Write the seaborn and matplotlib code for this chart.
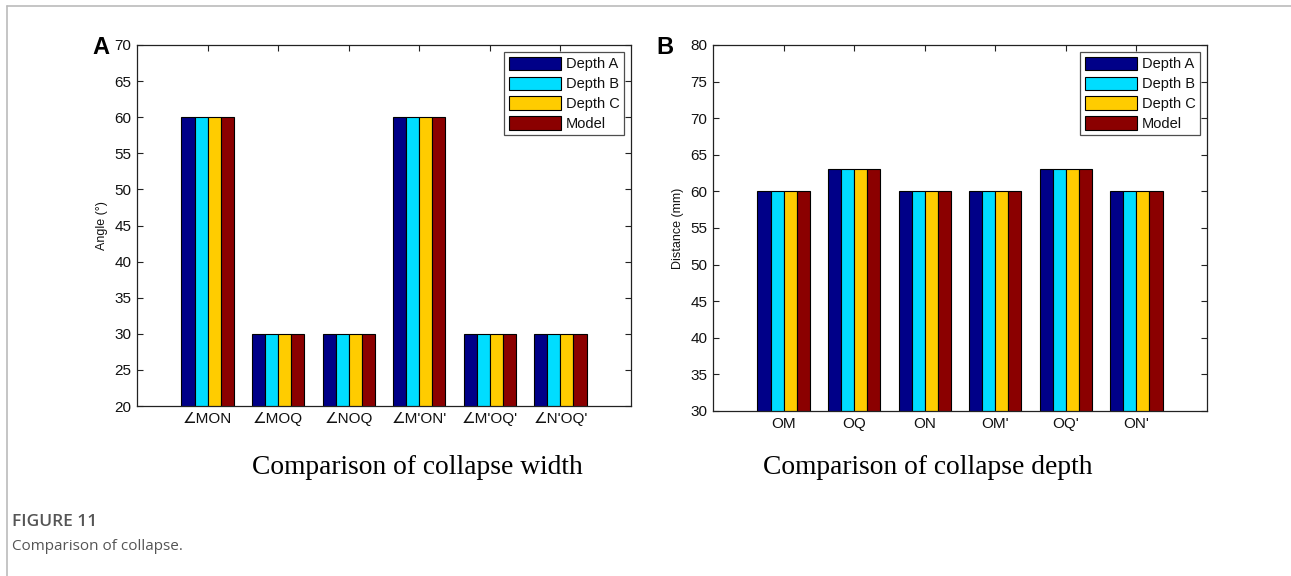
import matplotlib
matplotlib.use("Agg")
import matplotlib.pyplot as plt
import seaborn as sns
import pandas as pd
from matplotlib.lines import Line2D

# ---- data ----
series = ["Depth A", "Depth B", "Depth C", "Model"]
cats_a = ["∠MON", "∠MOQ", "∠NOQ", "∠M'ON'", "∠M'OQ'", "∠N'OQ'"]
depthA_a = [60, 30, 30, 60, 30, 30]
depthB_a = [60, 30, 30, 60, 30, 30]
depthC_a = [60, 30, 30, 60, 30, 30]
model_a = [60, 30, 30, 60, 30, 30]

cats_b = ["OM", "OQ", "ON", "OM'", "OQ'", "ON'"]
depthA_b = [60, 63, 60, 60, 63, 60]
depthB_b = [60, 63, 60, 60, 63, 60]
depthC_b = [60, 63, 60, 60, 63, 60]
model_b = [60, 63, 60, 60, 63, 60]

colors = ["#000088", "#00DDFF", "#FFCC00", "#8B0000"]


def long_df(cats, cols):
    rows = []
    for s, vals in zip(series, cols):
        for c, v in zip(cats, vals):
            rows.append({"cat": c, "series": s, "value": v})
    return pd.DataFrame(rows)


df_a = long_df(cats_a, [depthA_a, depthB_a, depthC_a, model_a])
df_b = long_df(cats_b, [depthA_b, depthB_b, depthC_b, model_b])

sns.set_theme(style="white")
plt.rcParams["font.family"] = ["Liberation Sans", "DejaVu Sans"]

fig = plt.figure(figsize=(12.91, 5.76), dpi=100)
ax1 = fig.add_axes([137 / 1291, 1 - 406 / 576, 494 / 1291, 361 / 576])
ax2 = fig.add_axes([713 / 1291, 1 - 411 / 576, 494 / 1291, 366 / 576])


def draw(ax, df, cats, ylim, yticks, ylabel, label, lx):
    sns.barplot(data=df, x="cat", y="value", hue="series", order=cats,
                hue_order=series, palette=colors, width=0.74,
                edgecolor="black", linewidth=0.8, saturation=1,
                errorbar=None, ax=ax)
    ax.set_xlim(-1, len(cats))
    ax.set_ylim(*ylim)
    ax.set_yticks(yticks)
    ax.set_xticks(range(len(cats)))
    ax.set_xticklabels(cats, fontsize=11, color="#111111")
    ax.set_yticklabels([str(t) for t in yticks], fontsize=11, color="#111111")
    ax.set_xlabel("")
    ax.set_ylabel(ylabel, fontsize=9, color="#111111", labelpad=5)
    ax.tick_params(direction="in", length=4, width=0.8, top=True, right=True,
                   bottom=True, left=True, pad=4, color="#222222")
    for sp in ax.spines.values():
        sp.set_visible(True)
        sp.set_color("#222222")
        sp.set_linewidth(0.9)
    leg = ax.legend(loc="upper right", fontsize=10.5, frameon=True, fancybox=False,
                    edgecolor="#222222", handlelength=3.6, handleheight=1.05,
                    borderpad=0.3, labelspacing=0.35, handletextpad=0.3,
                    borderaxespad=0.5)
    leg.get_frame().set_linewidth(0.9)
    for t in leg.get_texts():
        t.set_color("#111111")
    fig.text(lx, 1 - 48 / 576, label, fontsize=17, fontweight="bold",
             ha="left", va="center", color="black")


draw(ax1, df_a, cats_a, (20, 70), list(range(20, 71, 5)), "Angle (°)", "A", 92 / 1291)
draw(ax2, df_b, cats_b, (30, 80), list(range(30, 81, 5)), "Distance (mm)", "B", 656 / 1291)

fig.text(417 / 1291, 1 - 468 / 576, "Comparison of collapse width",
         family="Liberation Serif", fontsize=19.8, ha="center", va="center", color="black")
fig.text(928 / 1291, 1 - 468 / 576, "Comparison of collapse depth",
         family="Liberation Serif", fontsize=19.8, ha="center", va="center", color="black")

fig.text(12 / 1291, 1 - 522 / 576, "FIGURE 11", family="Open Sans",
         fontweight="semibold", fontsize=12.5, color="#555555", ha="left", va="center")
fig.text(12 / 1291, 1 - 546 / 576, "Comparison of collapse.", family="Open Sans",
         fontsize=11, color="#555555", ha="left", va="center")

# frame lines of the figure panel
fig.add_artist(Line2D([7 / 1291, 7 / 1291], [0, 1 - 6 / 576], transform=fig.transFigure,
                      color="#bbbbbb", linewidth=1.2))
fig.add_artist(Line2D([7 / 1291, 1], [1 - 6 / 576, 1 - 6 / 576], transform=fig.transFigure,
                      color="#bbbbbb", linewidth=1.2))

fig.savefig("out.png", dpi=100)
